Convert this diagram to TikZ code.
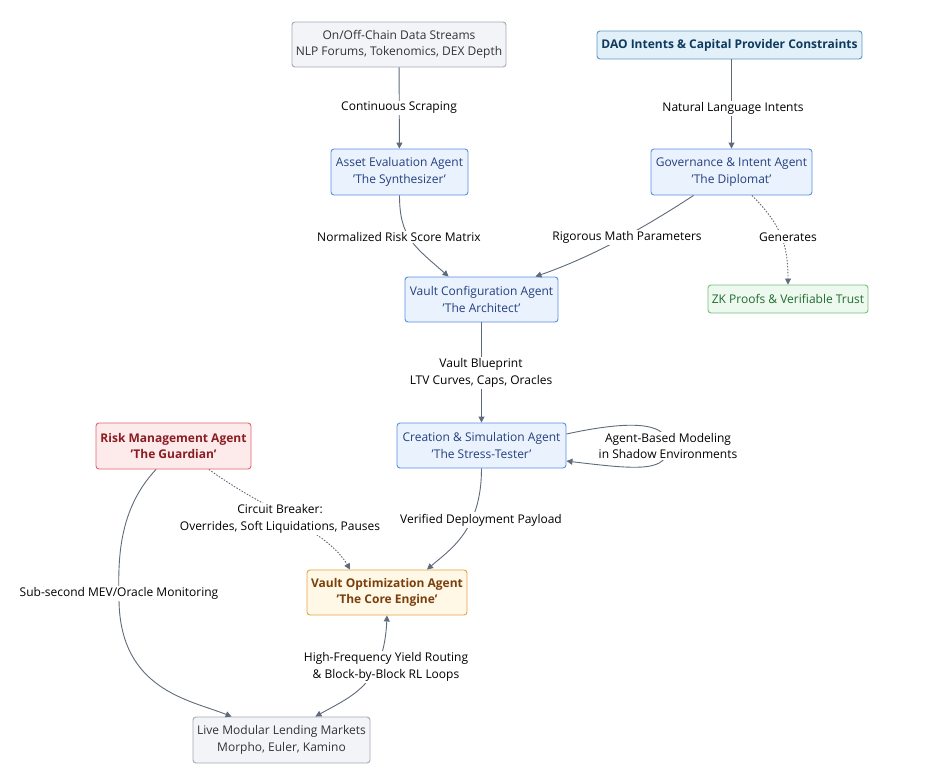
\documentclass[tikz,border=0pt]{standalone}
\usepackage{fontspec}
\setmainfont{Open Sans}
\usetikzlibrary{arrows.meta,calc}
\definecolor{edgec}{HTML}{5F6B7A}
\definecolor{grayfill}{HTML}{F2F4F8}
\definecolor{graydraw}{HTML}{A3A9B3}
\definecolor{bluefill}{HTML}{EAF2FD}
\definecolor{bluedraw}{HTML}{5B8EE6}
\definecolor{bluetext}{HTML}{24407F}
\definecolor{daofill}{HTML}{E2F0FA}
\definecolor{daodraw}{HTML}{5E97BC}
\definecolor{daotext}{HTML}{0E3A5E}
\definecolor{greenfill}{HTML}{EDF8EE}
\definecolor{greendraw}{HTML}{74C27A}
\definecolor{greentext}{HTML}{216B30}
\definecolor{redfill}{HTML}{FDEBEC}
\definecolor{reddraw}{HTML}{E2646E}
\definecolor{redtext}{HTML}{8A1C22}
\definecolor{orfill}{HTML}{FFF8E6}
\definecolor{ordraw}{HTML}{E8A246}
\definecolor{ortext}{HTML}{7A3F0C}
\definecolor{txt}{HTML}{333333}
\tikzset{
  box/.style={draw, rounded corners=3pt, line width=0.9pt, align=center, inner sep=2pt,
    font=\fontsize{12}{16.5}\selectfont},
  graybox/.style={box, fill=grayfill, draw=graydraw, text=txt},
  bluebox/.style={box, fill=bluefill, draw=bluedraw, text=bluetext},
  daobox/.style={box, fill=daofill, draw=daodraw, text=daotext, font=\fontsize{12}{16.5}\selectfont\bfseries},
  greenbox/.style={box, fill=greenfill, draw=greendraw, text=greentext},
  redbox/.style={box, fill=redfill, draw=reddraw, text=redtext, font=\fontsize{12}{16.5}\selectfont\bfseries},
  orbox/.style={box, fill=orfill, draw=ordraw, text=ortext, font=\fontsize{12}{16.5}\selectfont\bfseries},
  lbl/.style={fill=white, inner sep=1.5pt, align=center, text=black, font=\fontsize{12}{16.5}\selectfont},
  conn/.style={draw=edgec, line width=0.9pt, -{Triangle[width=6pt,length=6pt]}},
  dotconn/.style={conn, dash pattern=on 1.5pt off 1.5pt}
}
\begin{document}
\begin{tikzpicture}[x=1pt,y=-1pt]
\useasboundingbox[fill=white] (0,0) rectangle (933,782);
% nodes
\node[graybox, minimum width=214pt, minimum height=45pt] (data) at (399,44.5) {On/Off-Chain Data Streams\\NLP Forums, Tokenomics, DEX Depth};
\node[daobox, minimum width=265pt, minimum height=28pt] (dao) at (729.5,45) {DAO Intents \& Capital Provider Constraints};
\node[bluebox, minimum width=137pt, minimum height=46pt] (asset) at (399.5,172) {Asset Evaluation Agent\\'The Synthesizer'};
\node[bluebox, minimum width=161pt, minimum height=46pt] (gov) at (731.5,172) {Governance \& Intent Agent\\'The Diplomat'};
\node[bluebox, minimum width=153pt, minimum height=45pt] (vconf) at (481.5,299.5) {Vault Configuration Agent\\'The Architect'};
\node[greenbox, minimum width=160pt, minimum height=28pt] (zk) at (788,299) {ZK Proofs \& Verifiable Trust};
\node[bluebox, minimum width=169pt, minimum height=45pt] (create) at (481.5,445.5) {Creation \& Simulation Agent\\'The Stress-Tester'};
\node[redbox, minimum width=155pt, minimum height=46pt] (risk) at (173.5,446) {Risk Management Agent\\'The Guardian'};
\node[orbox, minimum width=160pt, minimum height=45pt] (core) at (387,592.5) {Vault Optimization Agent\\'The Core Engine'};
\node[graybox, minimum width=177pt, minimum height=46pt] (live) at (281.5,740) {Live Modular Lending Markets\\Morpho, Euler, Kamino};
% edges
\draw[conn] (data) -- (asset);
\node[lbl] (l1) at (399,108) {Continuous Scraping};
\draw[conn] (dao.south -| gov.north) -- (gov.north);
\node[lbl] (l2) at (733,108) {Natural Language Intents};
\draw[conn] (asset.south) .. controls ($(asset.south)+(0,42)$) and ($(vconf.north west)+(10,-30)$) .. ($(vconf.north west)+(44,0)$);
\node[lbl] (l3) at (399,237) {Normalized Risk Score Matrix};
\draw[conn] ($(gov.south west)+(43,0)$) .. controls ($(gov.south west)+(0,28)$) and ($(vconf.north east)+(40,-22)$) .. ($(vconf.north east)+(-23,0)$);
\node[lbl] (l4) at (627,237) {Rigorous Math Parameters};
\draw[dotconn] ($(gov.south)+(20.5,0)$) .. controls ($(gov.south)+(50,30)$) and ($(zk.north)+(0,-40)$) .. (zk.north);
\node[lbl] (l5) at (788,237) {Generates};
\draw[conn] (vconf) -- (create);
\node[lbl] (l6) at (481,373) {Vault Blueprint\\LTV Curves, Caps, Oracles};
\draw[conn] ($(create.east)+(0,-11.5)$) .. controls (640,418) and (668,425) .. (668,446) .. controls (668,472) and (640,470) .. ($(create.east)+(0,15.5)$);
\node[lbl] (l7) at (668,446) {Agent-Based Modeling\\in Shadow Environments};
\draw[conn] (create.south) .. controls ($(create.south)+(0,62)$) and ($(core.north)+(63,-20)$) .. ($(core.north)+(40,0)$);
\draw[dotconn] ($(risk.south)+(35.5,0)$) .. controls ($(risk.south)+(90,40)$) and ($(core.north)+(-60,-40)$) .. ($(core.north)+(-37,0)$);
\node[lbl] (l9) at (280,519) {Circuit Breaker:\\Overrides, Soft Liquidations, Pauses};
\node[lbl] (l8) at (481,520) {Verified Deployment Payload};
\draw[conn] ($(risk.south)+(-17.5,0)$) .. controls (118,510) and (118,560) .. (119,600) .. controls (120,690) and (190,700) .. ($(live.north west)+(39,0)$);
\node[lbl] (l10) at (119,593) {Sub-second MEV/Oracle Monitoring};
\draw[conn, {Triangle[width=6pt,length=6pt]}-{Triangle[width=6pt,length=6pt]}] (core.south) .. controls ($(core.south)+(-3,70)$) and ($(live.north east)+(-20,-20)$) .. ($(live.north east)+(-55,0)$);
\node[lbl] (l11) at (386,667) {High-Frequency Yield Routing\\\& Block-by-Block RL Loops};
\end{tikzpicture}
\end{document}
